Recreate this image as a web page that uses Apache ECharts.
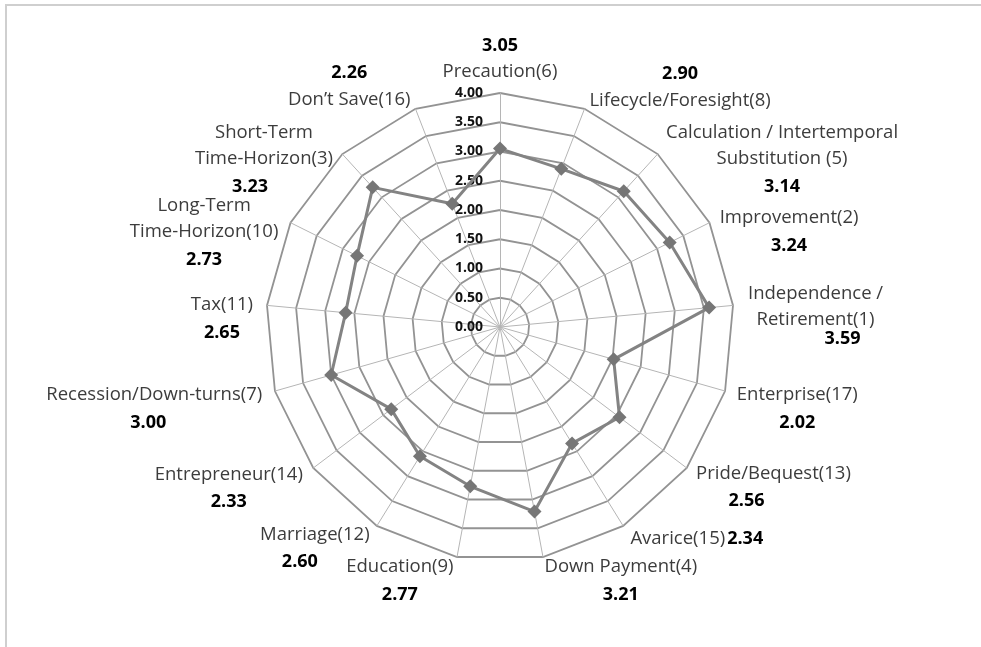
<!DOCTYPE html>
<html>
<head>
<meta charset="utf-8">
<script src="https://cdn.jsdelivr.net/npm/echarts@6/dist/echarts.min.js"></script>
<style>
  html, body { margin: 0; padding: 0; background: #fff; }
  #frame { position: absolute; left: 5px; top: 4px; width: 1100px; height: 800px;
           border-left: 2px solid #cfcfcf; border-top: 2px solid #cfcfcf; }
  #chart { position: absolute; left: 0; top: 0; width: 981px; height: 647px; }
</style>
</head>
<body>
<div id="frame"></div>
<div id="chart"></div>
<script>
// Saving motives, listed clockwise from the top spoke
const categories = [
  'Precaution(6)',
  'Lifecycle/Foresight(8)',
  'Calculation / Intertemporal\nSubstitution (5)',
  'Improvement(2)',
  'Independence /\nRetirement(1)',
  'Enterprise(17)',
  'Pride/Bequest(13)',
  'Avarice(15)',
  'Down Payment(4)',
  'Education(9)',
  'Marriage(12)',
  'Entrepreneur(14)',
  'Recession/Down-turns(7)',
  'Tax(11)',
  'Long-Term\nTime-Horizon(10)',
  'Short-Term\nTime-Horizon(3)',
  'Don\u2019t Save(16)'
];

// Mean importance score per motive
const scores = [3.05, 2.90, 3.14, 3.24, 3.59, 2.02, 2.56, 2.34, 3.21, 2.77, 2.60, 2.33, 3.00, 2.65, 2.73, 3.23, 2.26];

// Ring labels on the vertical axis
const tickLabels = ['0.00', '0.50', '1.00', '1.50', '2.00', '2.50', '3.00', '3.50', '4.00'];

const AXIS_MAX = 4;
const TEXT_FONT = '"Open Sans", "Noto Sans", sans-serif';

// Label layout per motive: where the score goes relative to the name,
// padding nudges for the whole block, and a sideways shift of the score line
const labelLayout = {
  'Precaution(6)': { value: 'above' },
  'Lifecycle/Foresight(8)': { value: 'above', padding: [0, 0, 28, 2] },
  'Calculation / Intertemporal\nSubstitution (5)': { padding: [26, 0, 0, 3] },
  'Improvement(2)': { padding: [28, 0, 0, 3] },
  'Independence /\nRetirement(1)': { padding: [16, 0, 0, 7], tight: true, shift: 27 },
  'Enterprise(17)': { padding: [33, 0, 0, 4] },
  'Pride/Bequest(13)': { padding: [31, 0, 0, 3], shift: -27 },
  'Avarice(15)': { value: 'right', padding: [12, 0, 0, 3] },
  'Down Payment(4)': { padding: [33, 0, 0, 0] },
  'Education(9)': { padding: [33, 2, 0, 0] },
  'Marriage(12)': { padding: [33, 3, 0, 0], shift: -15 },
  'Entrepreneur(14)': { padding: [33, 4, 0, 0] },
  'Recession/Down-turns(7)': { padding: [33, 5, 0, 0], shift: -6 },
  'Tax(11)': { padding: [31, 6, 0, 0] },
  'Long-Term\nTime-Horizon(10)': { padding: [29, 5, 0, 0] },
  'Short-Term\nTime-Horizon(3)': { padding: [25, 4, 0, 0], shift: -14 },
  'Don\u2019t Save(16)': { value: 'above', padding: [0, 2, 30, 0] }
};

// ECharts lays indicators out counter-clockwise, so feed them in reverse after the first
const order = [0];
for (let i = categories.length - 1; i >= 1; i--) order.push(i);

const nameStyle = { fontFamily: TEXT_FONT, fontSize: 18.5, color: '#3c3c3c', lineHeight: 26, align: 'center' };
const valueStyle = { fontFamily: TEXT_FONT, fontSize: 18, fontWeight: 'bold', color: '#000', align: 'center' };

// One rich style per score label so each can carry its own sideways shift
const rich = { n: nameStyle };
const indexByName = {};
categories.forEach((c, i) => {
  indexByName[c] = i;
  const lay = labelLayout[c] || {};
  const s = lay.shift || 0;
  const style = Object.assign({}, valueStyle, {
    lineHeight: lay.value === 'above' ? 27 : (lay.tight ? 12 : 30),
    padding: s >= 0 ? [0, 0, 0, 2 * s] : [0, -2 * s, 0, 0]
  });
  if (lay.value === 'right') { delete style.align; style.lineHeight = 26; style.padding = [0, 0, 0, 2]; }
  rich['v' + i] = style;
});

const indicators = order.map((i, k) => {
  const name = categories[i];
  const ind = { name: name, max: AXIS_MAX, min: 0 };
  const lay = labelLayout[name];
  if (lay && lay.padding) ind.nameTextStyle = { padding: lay.padding };
  if (k === 0) {
    ind.axisLabel = {
      show: true,
      fontFamily: TEXT_FONT,
      fontSize: 14,
      fontWeight: 'bold',
      color: '#111',
      margin: 17,
      formatter: v => tickLabels[Math.round(v / 0.5)]
    };
  }
  return ind;
});

function nameFormatter(name) {
  const i = indexByName[name];
  const v = '{v' + i + '|' + scores[i].toFixed(2) + '}';
  const lay = labelLayout[name] || {};
  const lines = name.split('\n').map(s => '{n|' + s + '}');
  const place = lay.value || 'below';
  if (place === 'above') return [v].concat(lines).join('\n');
  if (place === 'right') return lines.join('\n') + v;
  return lines.concat([v]).join('\n');
}

const chart = echarts.init(document.getElementById('chart'));
chart.setOption({
  animation: false,
  backgroundColor: 'transparent',
  radar: {
    center: [500, 327],
    radius: 234,
    startAngle: 90,
    splitNumber: 8,
    shape: 'polygon',
    indicator: indicators,
    axisName: { formatter: nameFormatter, rich: rich },
    nameGap: 8,
    axisLine: { lineStyle: { color: '#b5b5b5', width: 1 } },
    splitLine: { lineStyle: { color: '#939393', width: 1.8 } },
    splitArea: { show: false },
    axisTick: { show: false },
    axisLabel: { show: false }
  },
  series: [{
    type: 'radar',
    symbol: 'diamond',
    symbolSize: 14,
    lineStyle: { color: '#838383', width: 3 },
    itemStyle: { color: '#767676' },
    data: [{ value: order.map(i => scores[i]), name: 'Mean score' }]
  }]
});
</script>
</body>
</html>
